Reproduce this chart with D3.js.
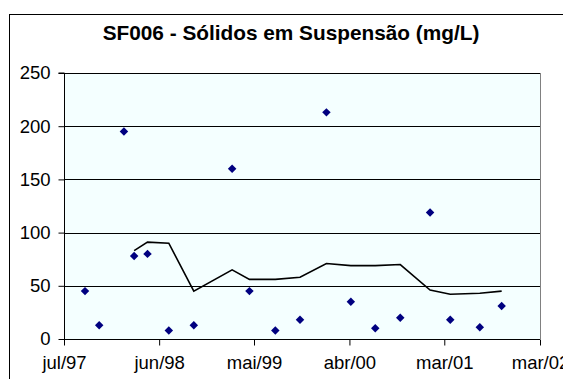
<!DOCTYPE html>
<html>
<head>
<meta charset="utf-8">
<script src="https://cdn.jsdelivr.net/npm/d3@7"></script>
<style>
  html, body { margin: 0; padding: 0; background: #ffffff; }
  svg { display: block; }
</style>
</head>
<body>
<svg id="chart" width="563" height="379"></svg>
<script>
// Sólidos em suspensão, estação SF006
const dataColeta = [
  "1997-09-13", "1997-11-02", "1998-01-28", "1998-03-05", "1998-04-21",
  "1998-07-05", "1998-10-01", "1999-02-13", "1999-04-15", "1999-07-15",
  "1999-10-10", "2000-01-11", "2000-04-06", "2000-07-01", "2000-09-27",
  "2001-01-10", "2001-03-22", "2001-07-04", "2001-09-19"
];
const solidos = [45, 13, 195, 78, 80, 8, 13, 160, 45, 8, 18, 213, 35, 10, 20, 119, 18, 11, 31];

// média móvel (4 períodos), a partir da 4ª coleta
const mediaMovel = [83, 91, 90, 45, 65, 56, 56, 58, 71, 69, 69, 70, 46, 42, 43, 45];

const tickDatas = ["1997-07-01", "1998-06-01", "1999-05-01", "2000-04-01", "2001-03-01", "2002-02-01"];
const tickRotulos = ["jul/97", "jun/98", "mai/99", "abr/00", "mar/01", "mar/02"];
const yTicks = [0, 50, 100, 150, 200, 250];

const parse = d3.timeParse("%Y-%m-%d");
const svg = d3.select("#chart");
const fonte = "Arial, 'Liberation Sans', sans-serif";

const plot = { left: 64, right: 540, top: 73, bottom: 339 };

// moldura do gráfico
svg.append("rect")
  .attr("x", 9.5).attr("y", 14.5)
  .attr("width", 620).attr("height", 420)
  .attr("fill", "#ffffff").attr("stroke", "#000000").attr("stroke-width", 1);

svg.append("text")
  .attr("x", 291).attr("y", 40)
  .attr("text-anchor", "middle")
  .attr("font-family", fonte)
  .attr("font-weight", "bold")
  .attr("font-size", 20.8)
  .attr("fill", "#000")
  .text("SF006 - Sólidos em Suspensão (mg/L)");

const x = d3.scaleTime()
  .domain([parse(tickDatas[0]), parse(tickDatas[tickDatas.length - 1])])
  .range([plot.left, plot.right]);
const y = d3.scaleLinear().domain([0, 250]).range([plot.bottom, plot.top]);

// área de plotagem
svg.append("rect")
  .attr("x", plot.left).attr("y", plot.top)
  .attr("width", plot.right - plot.left).attr("height", plot.bottom - plot.top)
  .attr("fill", "#F4FFFF");

// linhas de grade
svg.append("g")
  .selectAll("line")
  .data(yTicks.filter(v => v > 0))
  .join("line")
  .attr("x1", plot.left).attr("x2", plot.right)
  .attr("y1", d => Math.round(y(d)) + 0.5).attr("y2", d => Math.round(y(d)) + 0.5)
  .attr("stroke", "#000").attr("stroke-width", 1);

// borda direita da área de plotagem
svg.append("line")
  .attr("x1", plot.right + 0.5).attr("x2", plot.right + 0.5)
  .attr("y1", plot.top).attr("y2", plot.bottom)
  .attr("stroke", "#808080").attr("stroke-width", 1);

// eixo Y
const yAxis = svg.append("g")
  .attr("transform", `translate(${plot.left + 0.5},0)`)
  .call(d3.axisLeft(y).tickValues(yTicks).tickSize(6).tickPadding(8).tickFormat(d3.format("d")));
yAxis.selectAll("text").attr("font-family", fonte).attr("font-size", 18.5).attr("fill", "#000");
yAxis.selectAll("line, path").attr("stroke", "#000");
yAxis.select(".domain").attr("d", `M-6,${y(250)}H0V${y(0)}`);

// eixo X
const xAxis = svg.append("g")
  .attr("transform", `translate(0,${plot.bottom + 0.5})`)
  .call(d3.axisBottom(x)
    .tickValues(tickDatas.map(parse))
    .tickSize(6).tickPadding(10)
    .tickFormat((d, i) => tickRotulos[i]));
xAxis.selectAll("text").attr("font-family", fonte).attr("font-size", 18.5).attr("fill", "#000");
xAxis.selectAll("line, path").attr("stroke", "#000");
xAxis.select(".domain").attr("d", `M${x.range()[0]},0H${x.range()[1]}`);

// média móvel
const linha = d3.line()
  .x(d => x(d.data))
  .y(d => y(d.valor));
const serieMedia = mediaMovel.map((v, i) => ({ data: parse(dataColeta[i + 3]), valor: v }));
svg.append("path")
  .datum(serieMedia)
  .attr("d", linha)
  .attr("fill", "none")
  .attr("stroke", "#000")
  .attr("stroke-width", 1.6);

// pontos de coleta (losangos)
svg.append("g")
  .selectAll("path")
  .data(solidos.map((v, i) => ({ data: parse(dataColeta[i]), valor: v })))
  .join("path")
  .attr("transform", d => `translate(${x(d.data)},${y(d.valor)}) rotate(45)`)
  .attr("d", d3.symbol().type(d3.symbolSquare).size(36))
  .attr("fill", "#000080");
</script>
</body>
</html>
